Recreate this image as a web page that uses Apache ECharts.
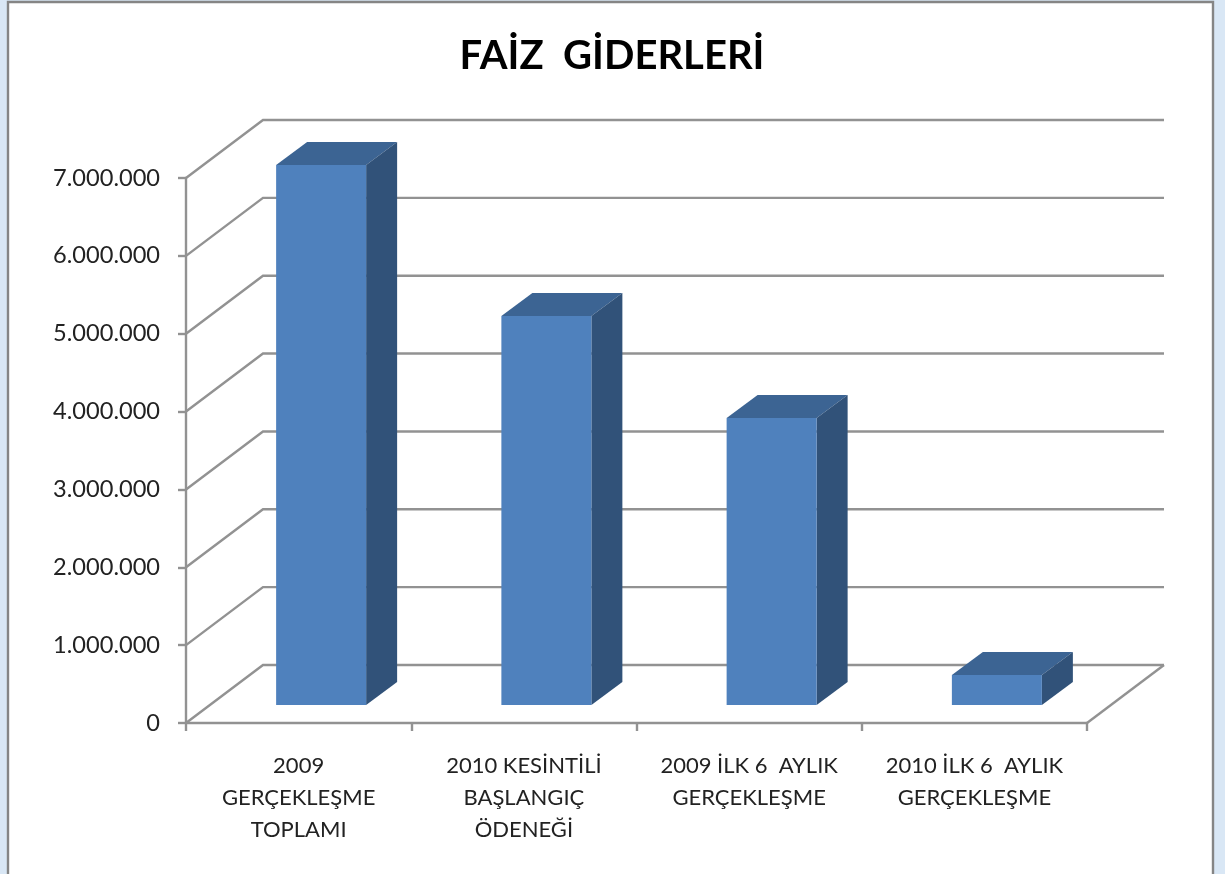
<!DOCTYPE html>
<html><head><meta charset="utf-8">
<style>html,body{margin:0;padding:0;background:#d9e7f5;}#c{width:1225px;height:874px;filter:blur(0.5px);}</style>
<script src="https://cdn.jsdelivr.net/npm/echarts@6/dist/echarts.min.js"></script>
</head><body><div id="c"></div>
<script>
const titleText = 'FAİZ  GİDERLERİ';
const categories = ['2009\nGERÇEKLEŞME\nTOPLAMI','2010 KESİNTİLİ\nBAŞLANGIÇ\nÖDENEĞİ','2009 İLK 6  AYLIK\nGERÇEKLEŞME','2010 İLK 6  AYLIK\nGERÇEKLEŞME'];
const values = [6935000, 4996000, 3686000, 385000];
const yTicks = [0,1000000,2000000,3000000,4000000,5000000,6000000,7000000];
const FONT = 'Lato';
const WALL_DX = 77, WALL_DY = -58, DEPTH_DX = 31, DEPTH_DY = -23, BAR_W = 90, BAR_SHIFT_X = 22.5, BAR_SHIFT_Y = -18;
const GRID = '#929292';
const chart = echarts.init(document.getElementById('c'), null, {renderer:'canvas', width:1225, height:874});
const lineStyle = {stroke:GRID, lineWidth:2.4, fill:null};
chart.setOption({
  animation:false,
  backgroundColor:'#d9e7f5',
  title:{text:titleText, left:607, top:31, textAlign:'center', textStyle:{fontFamily:FONT, fontSize:40, fontWeight:'bold', color:'#000'}},
  graphic:[{type:'rect', z:-10, silent:true, shape:{x:8,y:2,width:1205,height:880}, style:{fill:'#fff', stroke:'#858585', lineWidth:2.4}}],
  grid:{left:186, right:138, top:178, bottom:151},
  xAxis:{type:'category', data:categories, boundaryGap:true,
    axisLine:{lineStyle:{color:GRID,width:2.4}}, axisTick:{show:true,length:8,lineStyle:{color:GRID,width:2.4}},
    splitLine:{show:false},
    axisLabel:{interval:0, margin:27, fontFamily:FONT, fontSize:22, lineHeight:32, color:'#222', align:'center'}},
  yAxis:{type:'value', min:0, max:7000000, interval:1000000,
    axisLine:{show:true,lineStyle:{color:GRID,width:2.4}}, axisTick:{show:true,length:8,lineStyle:{color:GRID,width:2.4}},
    splitLine:{show:false},
    axisLabel:{margin:26, fontFamily:FONT, fontSize:23.6, color:'#222', padding:[4,0,0,0],
      formatter:v=>String(v).replace(/\B(?=(\d{3})+$)/g,'.')}},
  series:[
    {type:'custom', silent:true, data:yTicks.map(v=>[0,v]), z:1,
     renderItem(params,api){
       const cs=params.coordSys, v=api.value(1), y=api.coord([0,v])[1], x0=cs.x, x1=cs.x+cs.width;
       const kids=[{type:'polyline',shape:{points:[[x0,y],[x0+WALL_DX,y+WALL_DY],[x1+WALL_DX,y+WALL_DY]]},style:lineStyle}];
       if(v===0) kids.push({type:'line',shape:{x1:x1,y1:y,x2:x1+WALL_DX,y2:y+WALL_DY},style:lineStyle});
       return {type:'group',children:kids};
     }},
    {type:'custom', silent:true, data:values.map((v,i)=>[i,v]), z:2,
     renderItem(params,api){
       const base=api.coord([api.value(0),0]), top=api.coord([api.value(0),api.value(1)]);
       const l=base[0]+BAR_SHIFT_X-BAR_W/2, r=l+BAR_W, b=base[1]+BAR_SHIFT_Y, t=top[1]+BAR_SHIFT_Y;
       const poly=(pts,fill)=>({type:'polygon',shape:{points:pts},style:{fill:fill,stroke:null}});
       return {type:'group',children:[
         poly([[l,t],[r,t],[r+DEPTH_DX,t+DEPTH_DY],[l+DEPTH_DX,t+DEPTH_DY]],'#3c6493'),
         poly([[r,t],[r+DEPTH_DX,t+DEPTH_DY],[r+DEPTH_DX,b+DEPTH_DY],[r,b]],'#315279'),
         poly([[l,t],[r,t],[r,b],[l,b]],'#4f81bd')
       ]};
     }}
  ]
});
</script></body></html>
